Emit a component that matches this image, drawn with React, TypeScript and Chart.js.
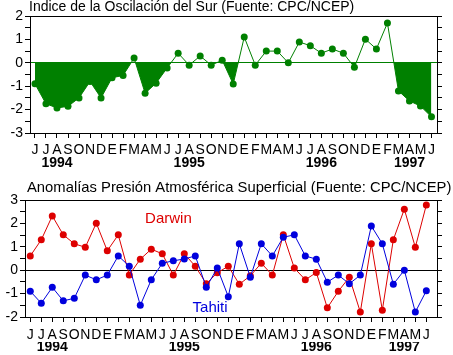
import React, { useEffect, useRef } from 'react';
import { Chart, registerables } from 'chart.js';

Chart.register(...registerables);

const FONT = "'Liberation Sans', Arial, Helvetica, sans-serif";
Chart.defaults.font.family = FONT;

const topTitle = 'Indice de la Oscilación del Sur (Fuente: CPC/NCEP)';
const bottomTitle = 'Anomalías Presión Atmosférica Superficial (Fuente: CPC/NCEP)';

// Jun 1994 .. Jun 1997
const monthLabels = [
  'J', 'J', 'A', 'S', 'O', 'N', 'D', 'E', 'F', 'M', 'A', 'M',
  'J', 'J', 'A', 'S', 'O', 'N', 'D', 'E', 'F', 'M', 'A', 'M',
  'J', 'J', 'A', 'S', 'O', 'N', 'D', 'E', 'F', 'M', 'A', 'M',
  'J',
];
const yearLabels = ['1994', '1995', '1996', '1997'];
const yearIndex = [2, 14, 26, 34];

const soi = [
  -0.9, -1.75, -1.93, -1.86, -1.5, -0.8, -1.5, -0.64, -0.54, 0.2, -1.3, -0.87,
  -0.22, 0.41, -0.1, 0.29, -0.1, 0.11, -0.91, 1.1, -0.1, 0.5, 0.5, 0.0,
  0.89, 0.73, 0.41, 0.59, 0.41, -0.19, 1.01, 0.59, 1.7, -1.2, -1.63, -1.85,
  -2.31,
];

const darwin = [
  0.61, 1.3, 2.32, 1.51, 1.13, 0.98, 2.01, 0.83, 1.51, -0.2, 0.47, 0.9,
  0.7, -0.21, 0.7, 0.17, -0.58, -0.11, 0.17, -0.6, -0.24, 0.3, -0.21, 1.51,
  0.09, -0.41, -0.1, -1.61, -0.9, -0.3, -1.79, 1.13, -1.71, 1.3, 2.61, 0.98,
  2.79,
];

const tahiti = [
  -0.9, -1.41, -0.73, -1.31, -1.2, -0.21, -0.41, -0.21, 0.61, 0.17, -1.5, -0.41,
  0.3, 0.4, 0.48, 0.61, -0.73, 0.09, -1.13, 1.13, -0.3, 1.13, 0.61, 1.41,
  1.51, 0.61, 0.47, -0.51, -0.21, -0.58, -0.21, 1.89, 1.13, -0.6, 0.0, -1.79,
  -0.88,
];

const seriesNames = ['Darwin', 'Tahiti'];
const seriesNamePos = [
  [12.56, 2.21],
  [16.34, -1.62],
];

const GREEN = '#008000';
const RED = '#dd0000';
const BLUE = '#0000dd';

const toPoints = (arr: number[]) => arr.map((v, i) => ({ x: i, y: v }));

const framePlugin = {
  id: 'frame',
  afterDraw(chart: any) {
    const { ctx, chartArea } = chart;
    const l = Math.round(chartArea.left) + 0.5;
    const t = Math.round(chartArea.top) + 0.5;
    const r = Math.round(chartArea.right) + 0.5;
    const b = Math.round(chartArea.bottom) + 0.5;
    ctx.save();
    ctx.strokeStyle = '#000';
    ctx.lineWidth = 1;
    ctx.strokeRect(l, t, r - l, b - t);
    ctx.restore();
  },
};

const headingPlugin = {
  id: 'heading',
  afterDraw(chart: any, _args: any, opts: any) {
    const { ctx } = chart;
    ctx.save();
    ctx.font = `${opts.size}px ${FONT}`;
    ctx.fillStyle = '#000';
    ctx.textAlign = 'left';
    ctx.textBaseline = 'middle';
    ctx.fillText(opts.text, opts.x, opts.y);
    ctx.restore();
  },
};

const namesPlugin = {
  id: 'names',
  afterDatasetsDraw(chart: any) {
    const { ctx, scales } = chart;
    const colors = [RED, BLUE];
    ctx.save();
    ctx.font = `15px ${FONT}`;
    ctx.textAlign = 'center';
    ctx.textBaseline = 'middle';
    seriesNames.forEach((name, i) => {
      ctx.fillStyle = colors[i];
      ctx.fillText(
        name,
        scales.x.getPixelForValue(seriesNamePos[i][0]),
        scales.y.getPixelForValue(seriesNamePos[i][1])
      );
    });
    ctx.restore();
  },
};

function makeOptions(cfg: {
  title: string;
  titleX: number;
  titleY: number;
  titleSize: number;
  padTop: number;
  xMin: number;
  xMax: number;
  yMin: number;
  yMax: number;
  leftWidth: number;
  monthPad: number;
  yearPad: number;
  zeroColor: string;
}) {
  return {
    responsive: false,
    animation: false,
    events: [],
    layout: { padding: { top: cfg.padTop, left: 0, right: 0, bottom: 0 } },
    plugins: {
      legend: { display: false },
      tooltip: { enabled: false },
      title: { display: false },
      heading: { text: cfg.title, x: cfg.titleX, y: cfg.titleY, size: cfg.titleSize },
    },
    scales: {
      x: {
        type: 'linear',
        position: 'bottom',
        min: cfg.xMin,
        max: cfg.xMax,
        weight: 0,
        afterBuildTicks: (s: any) => {
          s.ticks = monthLabels.map((_, i) => ({ value: i }));
        },
        afterFit: (s: any) => {
          s.height = 5 + cfg.monthPad + 14;
        },
        ticks: {
          autoSkip: false,
          maxRotation: 0,
          minRotation: 0,
          padding: cfg.monthPad,
          color: '#000',
          font: { size: 14, lineHeight: 1 },
          callback: (v: number) => monthLabels[v] ?? '',
        },
        grid: {
          drawOnChartArea: false,
          tickLength: 5,
          color: '#000',
          tickColor: '#000',
        },
        border: { display: false },
      },
      xYear: {
        type: 'linear',
        position: 'bottom',
        min: cfg.xMin,
        max: cfg.xMax,
        weight: 1,
        afterBuildTicks: (s: any) => {
          s.ticks = yearIndex.map((v) => ({ value: v }));
        },
        afterFit: (s: any) => {
          s.height = 13;
        },
        ticks: {
          autoSkip: false,
          maxRotation: 0,
          minRotation: 0,
          padding: cfg.yearPad,
          color: '#000',
          font: { size: 14, weight: 'bold', lineHeight: 1 },
          callback: (v: number) => {
            const k = yearIndex.indexOf(v);
            return k >= 0 ? yearLabels[k] : '';
          },
        },
        grid: { display: false, drawTicks: false },
        border: { display: false },
      },
      y: {
        type: 'linear',
        position: 'left',
        min: cfg.yMin,
        max: cfg.yMax,
        afterFit: (s: any) => {
          s.width = cfg.leftWidth;
        },
        ticks: {
          stepSize: 0.5,
          autoSkip: false,
          padding: 2,
          color: '#000',
          font: { size: 14, lineHeight: 1 },
          callback: (v: number) => (Number.isInteger(v) ? String(v) : ''),
        },
        grid: {
          color: (ctx: any) =>
            ctx.tick && ctx.tick.value === 0 ? cfg.zeroColor : 'rgba(0,0,0,0)',
          tickColor: '#000',
          tickLength: 5,
          lineWidth: 1,
        },
        border: { display: false },
      },
      y2: {
        type: 'linear',
        position: 'right',
        min: cfg.yMin,
        max: cfg.yMax,
        afterFit: (s: any) => {
          s.width = 16;
        },
        ticks: {
          stepSize: 0.5,
          autoSkip: false,
          padding: 0,
          callback: () => '',
        },
        grid: {
          drawOnChartArea: false,
          tickColor: '#000',
          tickLength: 5,
        },
        border: { display: false },
      },
    },
  };
}

export default function App() {
  const topRef = useRef<HTMLCanvasElement>(null);
  const botRef = useRef<HTMLCanvasElement>(null);

  useEffect(() => {
    const top = new Chart(topRef.current as HTMLCanvasElement, {
      type: 'line',
      data: {
        datasets: [
          {
            data: toPoints(soi),
            borderColor: GREEN,
            borderWidth: 1,
            pointRadius: 3.5,
            pointBorderWidth: 0,
            pointBackgroundColor: GREEN,
            tension: 0,
            fill: { target: 'origin', above: 'rgba(0,0,0,0)', below: GREEN },
          },
        ],
      },
      options: makeOptions({
        title: topTitle,
        titleX: 29,
        titleY: 7,
        titleSize: 14,
        padTop: 16,
        xMin: -0.45,
        xMax: 36.5,
        yMin: -3,
        yMax: 2,
        leftWidth: 30,
        monthPad: 5,
        yearPad: -1,
        zeroColor: GREEN,
      }) as any,
      plugins: [framePlugin, headingPlugin],
    });

    const bot = new Chart(botRef.current as HTMLCanvasElement, {
      type: 'line',
      data: {
        datasets: [
          {
            data: toPoints(tahiti),
            borderColor: BLUE,
            borderWidth: 1,
            pointRadius: 3.5,
            pointBorderWidth: 0,
            pointBackgroundColor: BLUE,
            tension: 0,
            fill: false,
          },
          {
            data: toPoints(darwin),
            borderColor: RED,
            borderWidth: 1,
            pointRadius: 3.5,
            pointBorderWidth: 0,
            pointBackgroundColor: RED,
            tension: 0,
            fill: false,
          },
        ],
      },
      options: makeOptions({
        title: bottomTitle,
        titleX: 27,
        titleY: 18,
        titleSize: 14.8,
        padTop: 30,
        xMin: -0.48,
        xMax: 36.97,
        yMin: -2,
        yMax: 3,
        leftWidth: 25,
        monthPad: 6,
        yearPad: -2,
        zeroColor: '#000',
      }) as any,
      plugins: [framePlugin, headingPlugin, namesPlugin],
    });

    return () => {
      top.destroy();
      bot.destroy();
    };
  }, []);

  return (
    <div
      style={{
        position: 'absolute',
        left: 0,
        top: 0,
        width: 453,
        height: 355,
        background: '#fff',
      }}
    >
      <canvas ref={topRef} width={453} height={170} style={{ display: 'block' }} />
      <canvas ref={botRef} width={453} height={185} style={{ display: 'block' }} />
    </div>
  );
}
